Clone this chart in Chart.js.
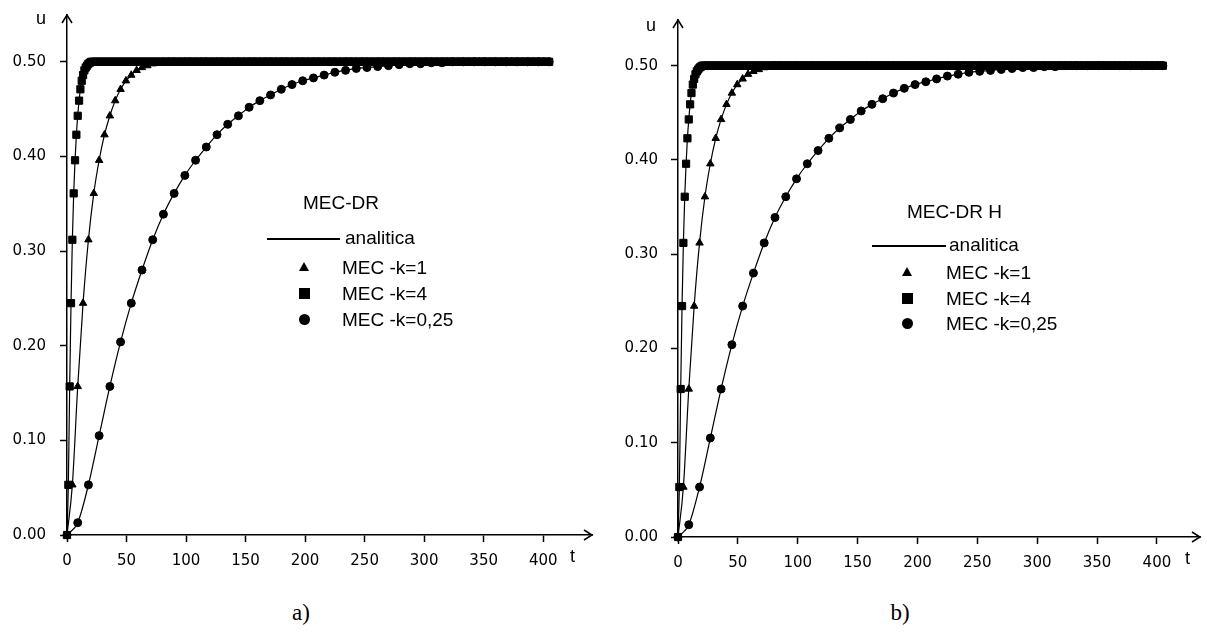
<!DOCTYPE html>
<html>
<head>
<meta charset="utf-8">
<script src="https://cdn.jsdelivr.net/npm/chart.js@4.4.0/dist/chart.umd.min.js"></script>
<style>
  body { margin: 0; background: #fff; width: 1207px; height: 634px; position: relative; overflow: hidden;
         font-family: "Liberation Sans", Arial, sans-serif; color: #000; }
  canvas { position: absolute; top: 0; }
  .txt { position: absolute; white-space: nowrap; font-size: 19px; line-height: 19px; }
  .ax { position: absolute; font-size: 18px; line-height: 18px; }
  .cap { position: absolute; font-family: "Liberation Serif", "Times New Roman", serif; font-size: 23px; line-height: 23px; }
  .lline { position: absolute; height: 1.6px; background: #000; }
  .tri { position: absolute; width: 0; height: 0; border-left: 5px solid transparent; border-right: 5px solid transparent; border-bottom: 9px solid #000; }
  .sq { position: absolute; width: 11px; height: 11px; background: #000; }
  .dot { position: absolute; width: 11px; height: 11px; background: #000; border-radius: 50%; }
</style>
</head>
<body>
<canvas id="chartA" width="600" height="580" style="left:0"></canvas>
<canvas id="chartB" width="607" height="580" style="left:600px"></canvas>
<script>
// ---- valores ----
const tTicks = [0, 50, 100, 150, 200, 250, 300, 350, 400];
const uTicks = [0, 0.1, 0.2, 0.3, 0.4, 0.5];
const legendLabels = ['analitica', 'MEC -k=1', 'MEC -k=4', 'MEC -k=0,25'];
const panelTitles = ['MEC-DR', 'MEC-DR H'];
const captions = ['a)', 'b)'];

// paso de tiempo entre marcadores de cada serie
const dtK025 = 9;
const dtK1 = 4.5;
const dtK4 = 1.125;

// MEC -k=0,25 (un marcador cada 9 unidades de t)
const uK025 = [0, 0.013, 0.053, 0.105, 0.157, 0.204, 0.245, 0.280, 0.312, 0.339,
  0.361, 0.380, 0.396, 0.410, 0.423, 0.434, 0.443, 0.452, 0.459, 0.465,
  0.471, 0.476, 0.480, 0.483, 0.486, 0.489, 0.491, 0.493, 0.494, 0.495,
  0.496, 0.497, 0.498, 0.498, 0.499, 0.499, 0.5, 0.5, 0.5, 0.5,
  0.5, 0.5, 0.5, 0.5, 0.5, 0.5];

// MEC -k=1 (un marcador cada 4.5)
const uK1 = [0, 0.053, 0.157, 0.245, 0.312, 0.361, 0.396, 0.423, 0.443, 0.459,
  0.471, 0.480, 0.486, 0.491, 0.494, 0.496, 0.498, 0.499,
  0.5, 0.5, 0.5, 0.5, 0.5, 0.5, 0.5, 0.5, 0.5, 0.5,
  0.5, 0.5, 0.5, 0.5, 0.5, 0.5, 0.5, 0.5, 0.5, 0.5,
  0.5, 0.5, 0.5, 0.5, 0.5, 0.5, 0.5, 0.5, 0.5, 0.5,
  0.5, 0.5, 0.5, 0.5, 0.5, 0.5, 0.5, 0.5, 0.5, 0.5,
  0.5, 0.5, 0.5, 0.5, 0.5, 0.5, 0.5, 0.5, 0.5, 0.5,
  0.5, 0.5, 0.5, 0.5, 0.5, 0.5, 0.5, 0.5, 0.5, 0.5,
  0.5, 0.5, 0.5, 0.5, 0.5, 0.5, 0.5, 0.5, 0.5, 0.5,
  0.5, 0.5, 0.5];

// MEC -k=4 (un marcador cada 1.125)
const uK4 = [0, 0.053, 0.157, 0.245, 0.312, 0.361, 0.396, 0.423, 0.443, 0.459,
  0.471, 0.480, 0.486, 0.491, 0.494, 0.496, 0.498, 0.499,
  0.5, 0.5, 0.5, 0.5, 0.5, 0.5, 0.5, 0.5, 0.5, 0.5, 0.5, 0.5, 0.5, 0.5, 0.5, 0.5, 0.5, 0.5, 0.5, 0.5,
  0.5, 0.5, 0.5, 0.5, 0.5, 0.5, 0.5, 0.5, 0.5, 0.5, 0.5, 0.5, 0.5, 0.5, 0.5, 0.5, 0.5, 0.5, 0.5, 0.5,
  0.5, 0.5, 0.5, 0.5, 0.5, 0.5, 0.5, 0.5, 0.5, 0.5, 0.5, 0.5, 0.5, 0.5, 0.5, 0.5, 0.5, 0.5, 0.5, 0.5,
  0.5, 0.5, 0.5, 0.5, 0.5, 0.5, 0.5, 0.5, 0.5, 0.5, 0.5, 0.5, 0.5, 0.5, 0.5, 0.5, 0.5, 0.5, 0.5, 0.5,
  0.5, 0.5, 0.5, 0.5, 0.5, 0.5, 0.5, 0.5, 0.5, 0.5, 0.5, 0.5, 0.5, 0.5, 0.5, 0.5, 0.5, 0.5, 0.5, 0.5,
  0.5, 0.5, 0.5, 0.5, 0.5, 0.5, 0.5, 0.5, 0.5, 0.5, 0.5, 0.5, 0.5, 0.5, 0.5, 0.5, 0.5, 0.5, 0.5, 0.5,
  0.5, 0.5, 0.5, 0.5, 0.5, 0.5, 0.5, 0.5, 0.5, 0.5, 0.5, 0.5, 0.5, 0.5, 0.5, 0.5, 0.5, 0.5, 0.5, 0.5,
  0.5, 0.5, 0.5, 0.5, 0.5, 0.5, 0.5, 0.5, 0.5, 0.5, 0.5, 0.5, 0.5, 0.5, 0.5, 0.5, 0.5, 0.5, 0.5, 0.5,
  0.5, 0.5, 0.5, 0.5, 0.5, 0.5, 0.5, 0.5, 0.5, 0.5, 0.5, 0.5, 0.5, 0.5, 0.5, 0.5, 0.5, 0.5, 0.5, 0.5,
  0.5, 0.5, 0.5, 0.5, 0.5, 0.5, 0.5, 0.5, 0.5, 0.5, 0.5, 0.5, 0.5, 0.5, 0.5, 0.5, 0.5, 0.5, 0.5, 0.5,
  0.5, 0.5, 0.5, 0.5, 0.5, 0.5, 0.5, 0.5, 0.5, 0.5, 0.5, 0.5, 0.5, 0.5, 0.5, 0.5, 0.5, 0.5, 0.5, 0.5,
  0.5, 0.5, 0.5, 0.5, 0.5, 0.5, 0.5, 0.5, 0.5, 0.5, 0.5, 0.5, 0.5, 0.5, 0.5, 0.5, 0.5, 0.5, 0.5, 0.5,
  0.5, 0.5, 0.5, 0.5, 0.5, 0.5, 0.5, 0.5, 0.5, 0.5, 0.5, 0.5, 0.5, 0.5, 0.5, 0.5, 0.5, 0.5, 0.5, 0.5,
  0.5, 0.5, 0.5, 0.5, 0.5, 0.5, 0.5, 0.5, 0.5, 0.5, 0.5, 0.5, 0.5, 0.5, 0.5, 0.5, 0.5, 0.5, 0.5, 0.5,
  0.5, 0.5, 0.5, 0.5, 0.5, 0.5, 0.5, 0.5, 0.5, 0.5, 0.5, 0.5, 0.5, 0.5, 0.5, 0.5, 0.5, 0.5, 0.5, 0.5,
  0.5, 0.5, 0.5, 0.5, 0.5, 0.5, 0.5, 0.5, 0.5, 0.5, 0.5, 0.5, 0.5, 0.5, 0.5, 0.5, 0.5, 0.5, 0.5, 0.5,
  0.5, 0.5, 0.5, 0.5, 0.5, 0.5, 0.5, 0.5, 0.5, 0.5, 0.5, 0.5, 0.5, 0.5, 0.5, 0.5, 0.5, 0.5, 0.5, 0.5,
  0.5, 0.5, 0.5];

// ---- geometria de cada panel ----
const panels = [
  { canvas: 'chartA', top: 15, right: 8, axisW: 67, xH: 45, xMax: 441, yMax: 0.5495, yPad: 14,
    uLbl: [41, 20], tLbl: [573, 558], cap: [301, 613],
    lg: { title: [303, 202], line: [267, 340, 239], text: 345, sym: 304, rows: [238, 267, 293, 319] } },
  { canvas: 'chartB', top: 20, right: 7, axisW: 78, xH: 43, xMax: 436, yMax: 0.5485, yPad: 13,
    uLbl: [651, 27], tLbl: [1188, 560], cap: [900, 613],
    lg: { title: [907, 211], line: [872, 946, 246], text: 949, sym: 907, rows: [245, 272, 298, 323] } }
];

const series = (vals, dt) => vals.map((u, i) => ({ x: i * dt, y: u }));

const arrowPlugin = {
  id: 'arrows',
  afterDraw(chart) {
    const { ctx, chartArea: a } = chart;
    ctx.save();
    ctx.strokeStyle = '#000';
    ctx.lineWidth = 1.5;
    ctx.beginPath();
    ctx.moveTo(a.left - 5, a.top + 8); ctx.lineTo(a.left, a.top); ctx.lineTo(a.left + 5, a.top + 8);
    ctx.moveTo(a.right - 8, a.bottom - 5); ctx.lineTo(a.right, a.bottom); ctx.lineTo(a.right - 8, a.bottom + 5);
    ctx.stroke();
    ctx.restore();
  }
};

function lineDs(vals, dt) {
  return { label: legendLabels[0], data: series(vals, dt), showLine: true, borderColor: '#000', borderWidth: 1.2,
           pointRadius: 0, cubicInterpolationMode: 'monotone', clip: false };
}
function markDs(label, vals, dt, style, r) {
  return { label, data: series(vals, dt), showLine: false, pointStyle: style, pointRadius: r,
           pointBackgroundColor: '#000', pointBorderColor: '#000', pointBorderWidth: 1, clip: false };
}

function makeChart(p) {
  const tickFont = { family: 'DejaVu Sans', size: 15 };
  new Chart(document.getElementById(p.canvas), {
    type: 'scatter',
    data: {
      datasets: [
        lineDs(uK025, dtK025), lineDs(uK1, dtK1), lineDs(uK4, dtK4),
        markDs(legendLabels[1], uK1, dtK1, 'triangle', 4.3),
        markDs(legendLabels[2], uK4, dtK4, 'rect', 5.1),
        markDs(legendLabels[3], uK025, dtK025, 'circle', 4)
      ]
    },
    options: {
      responsive: false,
      animation: false,
      devicePixelRatio: 1,
      layout: { padding: { left: 0, top: p.top, right: p.right, bottom: 0 } },
      plugins: { legend: { display: false }, tooltip: { enabled: false } },
      scales: {
        x: {
          type: 'linear', min: 0, max: p.xMax,
          afterBuildTicks: s => { s.ticks = tTicks.map(v => ({ value: v })); },
          afterFit: s => { s.height = p.xH; s.paddingLeft = 0; s.paddingRight = 0; },
          border: { display: true, color: '#000', width: 1.5 },
          grid: { display: true, drawOnChartArea: false, drawTicks: true, tickLength: 7, tickColor: '#000', tickWidth: 1.5 },
          ticks: { color: '#000', font: tickFont, padding: 10, maxRotation: 0, autoSkip: false, callback: v => String(v) }
        },
        y: {
          type: 'linear', min: 0, max: p.yMax,
          afterBuildTicks: s => { s.ticks = uTicks.map(v => ({ value: v })); },
          afterFit: s => { s.width = p.axisW; s.paddingTop = 0; s.paddingBottom = 0; },
          border: { display: true, color: '#000', width: 1.5 },
          grid: { display: true, drawOnChartArea: false, drawTicks: true, tickLength: 7, tickColor: '#000', tickWidth: 1.5 },
          ticks: { color: '#000', font: tickFont, padding: p.yPad, autoSkip: false, callback: v => v.toFixed(2) }
        }
      }
    },
    plugins: [arrowPlugin]
  });
}

function put(cls, text, x, y, style) {
  const d = document.createElement('div');
  d.className = cls;
  if (text) d.textContent = text;
  d.style.left = x + 'px';
  d.style.top = y + 'px';
  if (style) Object.assign(d.style, style);
  document.body.appendChild(d);
  return d;
}

panels.forEach((p, i) => {
  makeChart(p);
  const g = p.lg;
  put('txt', panelTitles[i], g.title[0], g.title[1] - 9);
  put('lline', '', g.line[0], g.line[2] - 0.8, { width: (g.line[1] - g.line[0]) + 'px' });
  put('txt', legendLabels[0], g.text, g.rows[0] - 10);
  put('tri', '', g.sym - 5, g.rows[1] - 5);
  put('txt', legendLabels[1], g.text - 3, g.rows[1] - 9);
  put('sq', '', g.sym - 5.5, g.rows[2] - 5.5);
  put('txt', legendLabels[2], g.text - 3, g.rows[2] - 9);
  put('dot', '', g.sym - 5.5, g.rows[3] - 5.5);
  put('txt', legendLabels[3], g.text - 3, g.rows[3] - 9);
  put('ax', 'u', p.uLbl[0] - 5, p.uLbl[1] - 11);
  put('ax', 't', p.tLbl[0] - 3, p.tLbl[1] - 11);
  const c = put('cap', captions[i], p.cap[0], p.cap[1] - 12);
  c.style.transform = 'translateX(-50%)';
});
</script>
</body>
</html>
